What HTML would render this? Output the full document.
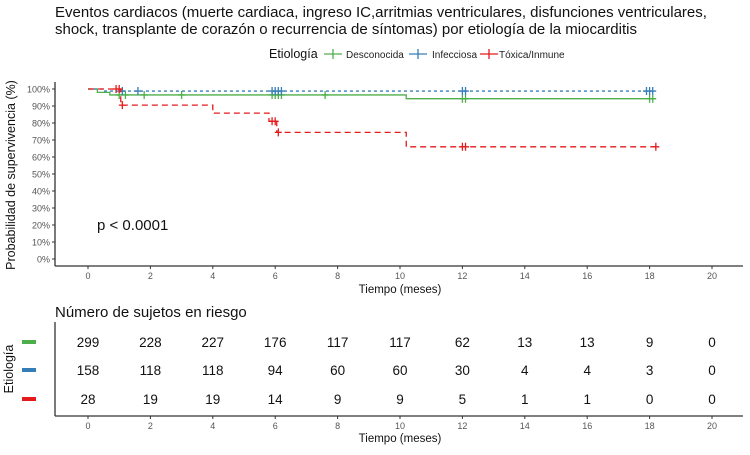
<!DOCTYPE html>
<html><head><meta charset="utf-8"><style>
body{margin:0;background:#fff;font-family:"Liberation Sans",sans-serif}
svg text{font-family:"Liberation Sans",sans-serif}
</style></head><body>
<svg id="s" width="750" height="450" xmlns="http://www.w3.org/2000/svg">
<text x="55" y="17" font-size="15" fill="#111">Eventos cardiacos (muerte cardiaca, ingreso IC,arritmias ventriculares, disfunciones ventriculares,</text>
<text x="55" y="34" font-size="15" fill="#111">shock, transplante de corazón o recurrencia de síntomas) por etiología de la miocarditis</text>
<g font-size="10">
<text x="269" y="58" font-size="12.5" fill="#111">Etiología</text>
<g><line x1="324" y1="54" x2="342" y2="54" stroke="#4DAF4A" stroke-width="1.3"/><line x1="333" y1="49" x2="333" y2="59" stroke="#4DAF4A" stroke-width="1.3"/><text x="346" y="58" fill="#222">Desconocida</text></g>
<g><line x1="409" y1="54" x2="427" y2="54" stroke="#377EB8" stroke-width="1.3"/><line x1="418" y1="49" x2="418" y2="59" stroke="#377EB8" stroke-width="1.3"/><text x="432" y="58" fill="#222">Infecciosa</text></g>
<g><line x1="480" y1="54" x2="498" y2="54" stroke="#E41A1C" stroke-width="1.3"/><line x1="489" y1="49" x2="489" y2="59" stroke="#E41A1C" stroke-width="1.3"/><text x="499" y="58" fill="#222">Tóxica/Inmune</text></g>
</g>
<g id="plot"></g>
<text x="97" y="230" font-size="15" fill="#111">p &lt; 0.0001</text>
<text transform="translate(15,175) rotate(-90)" text-anchor="middle" font-size="12.5" fill="#111">Probabilidad de supervivencia (%)</text>
<text x="400" y="293" text-anchor="middle" font-size="11.5" fill="#111">Tiempo (meses)</text>
<text x="55" y="317" font-size="15" fill="#111">Número de sujetos en riesgo</text>
<text transform="translate(13,369) rotate(-90)" text-anchor="middle" font-size="12.5" fill="#111">Etiología</text>
<text x="400" y="442" text-anchor="middle" font-size="11.5" fill="#111">Tiempo (meses)</text>
<g id="tbl"></g>
</svg>
<script>
const xTicks=[0,2,4,6,8,10,12,14,16,18,20];
const yTicks=[0,10,20,30,40,50,60,70,80,90,100];
const greenT=[0,0.3,0.7,10.2,18.2];
const greenS=[100,98,96.5,94.3,94.3];
const greenC=[1,1.2,1.8,3,5.9,6.0,6.1,6.2,7.6,12,12.1,18,18.1];
const blueT=[0,0.5,18.2];
const blueS=[100,98.8,98.8];
const blueC=[1.1,1.6,5.9,6.0,6.1,6.2,12,12.1,17.9,18,18.1];
const redT=[0,1.05,4,5.8,6.05,10.2,18.2];
const redS=[100,90.5,85.8,81,74.5,66,66];
const redC=[0.9,1.0,1.1,5.9,6.0,6.1,12,12.1,18.2];
const riskG=[299,228,227,176,117,117,62,13,13,9,0];
const riskB=[158,118,118,94,60,60,30,4,4,3,0];
const riskR=[28,19,19,14,9,9,5,1,1,0,0];
const NS="http://www.w3.org/2000/svg";
const X=t=>88+t*31.2, Y=v=>259-v*1.7;
function mk(p,tag,a){const e=document.createElementNS(NS,tag);for(const k in a)e.setAttribute(k,a[k]);p.appendChild(e);return e;}
const plot=document.getElementById('plot');
let ax=mk(plot,'line',{x1:55,y1:82,x2:55,y2:266,stroke:'#333','stroke-width':1.3});

ax=mk(plot,'line',{x1:55,y1:266,x2:743,y2:266,stroke:'#333','stroke-width':1.3});

yTicks.forEach(v=>{mk(plot,'line',{x1:52,x2:55,y1:Y(v),y2:Y(v),stroke:'#333'});
const t=mk(plot,'text',{x:50,y:Y(v)+3.5,'text-anchor':'end','font-size':9,fill:'#555'});t.textContent=v+'%';
});
xTicks.forEach(v=>{mk(plot,'line',{x1:X(v),x2:X(v),y1:266,y2:269,stroke:'#333'});
const t=mk(plot,'text',{x:X(v),y:279,'text-anchor':'middle','font-size':9,fill:'#555'});t.textContent=v;
});
function curve(T,S,C,col,dash,name){
let d='M'+X(T[0])+','+Y(S[0]);
for(let i=1;i<T.length;i++){d+=' H'+X(T[i])+' V'+Y(S[i]);}
const p=mk(plot,'path',{d:d,fill:'none',stroke:col,'stroke-width':1.3,'stroke-dasharray':dash});

C.forEach(c=>{let s=S[0];for(let i=0;i<T.length;i++)if(T[i]<=c)s=S[i];
const m=mk(plot,'path',{d:`M${X(c)-3.5},${Y(s)}h7M${X(c)},${Y(s)-4}v8`,stroke:col,'stroke-width':1.3});
});}
curve(greenT,greenS,greenC,'#4DAF4A','none','desconocida');
curve(blueT,blueS,blueC,'#377EB8','3,3','infecciosa');
curve(redT,redS,redC,'#E41A1C','6,4','toxica-inmune');
const tbl=document.getElementById('tbl');
ax=mk(tbl,'line',{x1:55,y1:322,x2:55,y2:416,stroke:'#333','stroke-width':1.3});

ax=mk(tbl,'line',{x1:55,y1:416,x2:743,y2:416,stroke:'#333','stroke-width':1.3});

xTicks.forEach(v=>{mk(tbl,'line',{x1:X(v),x2:X(v),y1:416,y2:419,stroke:'#333'});
const t=mk(tbl,'text',{x:X(v),y:429,'text-anchor':'middle','font-size':9,fill:'#555'});t.textContent=v;
});
[[riskG,'#4DAF4A',342,'desconocida'],[riskB,'#377EB8',370,'infecciosa'],[riskR,'#E41A1C',399,'toxica-inmune']].forEach(([arr,col,y,n])=>{
const k=mk(tbl,'rect',{x:22,y:y-2,width:14,height:4,fill:col});

arr.forEach((v,i)=>{const t=mk(tbl,'text',{x:X(xTicks[i]),y:y+5,'text-anchor':'middle','font-size':13.5,fill:'#111'});t.textContent=v;
});});
</script>
</body></html>
